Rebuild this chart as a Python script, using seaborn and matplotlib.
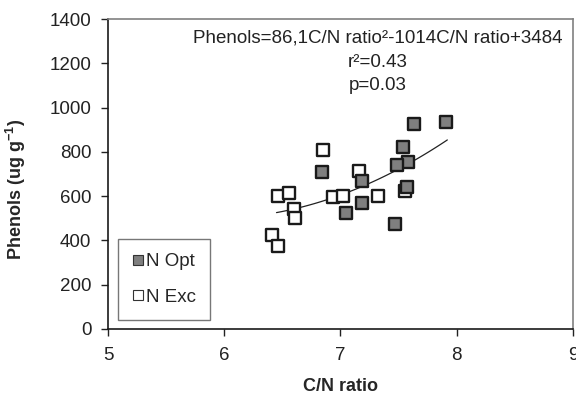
import matplotlib
matplotlib.use("Agg")
import matplotlib.pyplot as plt
import seaborn as sns
import numpy as np
import pandas as pd
from matplotlib.lines import Line2D

# Data
opt_cn = [7.63, 7.91, 7.54, 7.58, 7.485, 6.84, 7.19, 7.57, 7.19, 7.05, 7.47]
opt_ph = [926, 935, 823, 756, 741, 708, 670, 643, 569, 525, 474]
exc_cn = [6.85, 7.16, 6.46, 6.56, 6.60, 6.61, 6.94, 7.02, 7.32, 7.56, 6.41, 6.46]
exc_ph = [808, 712, 601, 616, 542, 501, 596, 601, 601, 625, 423, 376]
groups = ["N Opt", "N Exc"]
fit_coef = [86.1, -1014, 3484]
fit_range = [6.45, 7.92]
x_ticks = [5, 6, 7, 8, 9]
y_ticks = [0, 200, 400, 600, 800, 1000, 1200, 1400]

sns.set_style("white")
plt.rcParams['font.family'] = ['Liberation Sans', 'DejaVu Sans']
plt.rcParams['mathtext.fontset'] = 'custom'
plt.rcParams['mathtext.bf'] = 'Liberation Sans:bold'
plt.rcParams['mathtext.rm'] = 'Liberation Sans'

df = pd.DataFrame({
    "cn": opt_cn + exc_cn,
    "ph": opt_ph + exc_ph,
    "grp": [groups[0]] * len(opt_cn) + [groups[1]] * len(exc_cn),
})

fig = plt.figure(figsize=(5.76, 3.97), dpi=100)
ax = fig.add_axes([0.1875, 0.1713, 0.807, 0.7808])

xf = np.linspace(fit_range[0], fit_range[1], 100)
yf = np.polyval(fit_coef, xf)
sns.lineplot(x=xf, y=yf, ax=ax, color="#222222", lw=0.9, zorder=1)

sns.scatterplot(data=df[df.grp == groups[1]], x="cn", y="ph", ax=ax, marker="s",
                s=85, color="white", edgecolor="#1a1a1a", linewidth=1.7, zorder=2,
                legend=False)
sns.scatterplot(data=df[df.grp == groups[0]], x="cn", y="ph", ax=ax, marker="s",
                s=85, color="#7f7f7f", edgecolor="#1a1a1a", linewidth=1.7, zorder=3,
                legend=False)

ax.set_xlim(5, 9)
ax.set_ylim(0, 1400)
ax.set_xticks(x_ticks)
ax.set_yticks(y_ticks)
ax.tick_params(axis="both", direction="out", length=5, width=1, labelsize=13.5,
               colors="#222222", bottom=True, left=True)
ax.tick_params(axis="y", pad=7)
ax.tick_params(axis="x", pad=8)
for s in ["left", "bottom"]:
    ax.spines[s].set_color("#1a1a1a")
    ax.spines[s].set_linewidth(1.2)
for s in ["top", "right"]:
    ax.spines[s].set_color("#808080")
    ax.spines[s].set_linewidth(1.2)

ax.set_xlabel("C/N ratio", fontsize=13, fontweight="bold", labelpad=10)
ax.set_ylabel("Phenols (ug g$^{\\mathbf{-1}}$)", fontsize=13, fontweight="bold")
ax.yaxis.set_label_coords(-0.172, 0.45)

tx = 0.58
ax.text(tx, 0.939, "Phenols=86,1C/N ratio²-1014C/N ratio+3484", transform=ax.transAxes,
        ha="center", va="center", fontsize=13.5, color="#222222")
ax.text(tx, 0.861, "r²=0.43", transform=ax.transAxes, ha="center", va="center",
        fontsize=13.5, color="#222222")
ax.text(tx, 0.787, "p=0.03", transform=ax.transAxes, ha="center", va="center",
        fontsize=13.5, color="#222222")

handles = [Line2D([], [], marker="s", ls="", markersize=7.5, markerfacecolor="#7f7f7f",
                  markeredgecolor="#333333", markeredgewidth=0.8),
           Line2D([], [], marker="s", ls="", markersize=7.5, markerfacecolor="white",
                  markeredgecolor="#333333", markeredgewidth=0.8)]
leg = ax.legend(handles, groups, loc="lower left", bbox_to_anchor=(0.0215, 0.029),
                frameon=True, fancybox=False, fontsize=13.5, handlelength=0.6,
                handletextpad=0.15, labelspacing=1.0, borderpad=0.75, borderaxespad=0)
leg.get_frame().set_edgecolor("#555555")
leg.get_frame().set_linewidth(1.0)

fig.savefig("out.png", dpi=100)
